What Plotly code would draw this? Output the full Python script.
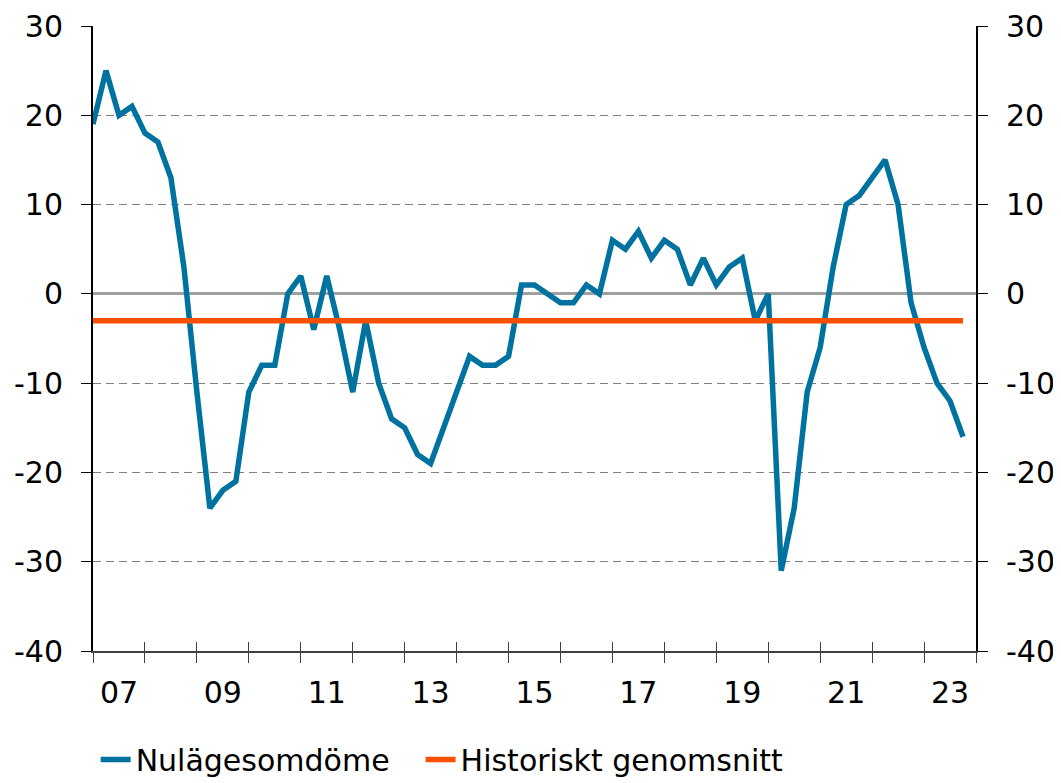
import plotly.graph_objects as go

# ---- data ----
years = list(range(2007, 2024))
quarters = [1, 2, 3, 4]
nulagesomdome = [19, 25, 20, 21, 18, 17, 13, 3,
                 -11, -24, -22, -21, -11, -8, -8, 0,
                 2, -4, 2, -4, -11, -3, -10, -14,
                 -15, -18, -19, -15, -11, -7, -8, -8,
                 -7, 1, 1, 0, -1, -1, 1, 0,
                 6, 5, 7, 4, 6, 5, 1, 4,
                 1, 3, 4, -3, 0, -31, -24, -11,
                 -6, 3, 10, 11, 13, 15, 10, -1,
                 -6, -10, -12, -16]
historiskt_genomsnitt = -3
x_tick_labels = ["07", "09", "11", "13", "15", "17", "19", "21", "23"]
y_tick_vals = [-40, -30, -20, -10, 0, 10, 20, 30]
y_tick_text = ["-40", "-30", "-20", "-10", "0", "10", "20", "30"]

# quarterly positions (fractional years)
x_vals = [y + (q - 1) / 4 for y in years for q in quarters]
x_label_pos = [2007.5 + 2 * i for i in range(len(x_tick_labels))]
year_bounds = list(range(2007, 2025))

BLUE = "#00729F"
ORANGE = "#FA5005"
FONT = "DejaVu Sans"
FS = 30

fig = go.Figure()
fig.add_trace(go.Scatter(x=x_vals, y=nulagesomdome, mode="lines",
                         line=dict(color=BLUE, width=5.5), name="Nulägesomdöme",
                         legend="legend"))
fig.add_trace(go.Scatter(x=[x_vals[0], x_vals[-1]],
                         y=[historiskt_genomsnitt, historiskt_genomsnitt],
                         mode="lines", line=dict(color=ORANGE, width=5.5),
                         name="Historiskt genomsnitt", legend="legend2"))
# helper trace for the mirrored axes
fig.add_trace(go.Scatter(x=[x_vals[0]], y=[historiskt_genomsnitt], xaxis="x2", yaxis="y2",
                         mode="markers", marker=dict(opacity=0), showlegend=False,
                         hoverinfo="skip"))

xr = [2007, 2024]
leg_common = dict(orientation="h", yanchor="top", xanchor="left", y=-0.132,
                  font=dict(size=FS), itemwidth=30, bgcolor="rgba(0,0,0,0)")
fig.update_layout(
    template="none",
    width=1053, height=775,
    margin=dict(l=85, r=85, t=18, b=132, autoexpand=False),
    paper_bgcolor="white", plot_bgcolor="white",
    font=dict(family=FONT, size=FS, color="black"),
    showlegend=True,
    legend=dict(x=0.003, **leg_common),
    legend2=dict(x=0.371, **leg_common),
    xaxis=dict(range=xr, tickmode="array", tickvals=x_label_pos, ticktext=x_tick_labels,
               ticks="", showgrid=False, zeroline=False, automargin=False,
               showline=True, linecolor="#404040", linewidth=2,
               ticklabelstandoff=14,
               minor=dict(tickmode="array", tickvals=year_bounds, ticks="outside",
                          ticklen=10, tickwidth=1, tickcolor="#404040", showgrid=False)),
    xaxis2=dict(range=xr, overlaying="x", anchor="y2", side="bottom", automargin=False,
                tickmode="array", tickvals=year_bounds, ticks="inside", ticklen=9,
                tickwidth=1, tickcolor="#404040", showticklabels=False,
                showgrid=False, zeroline=False, showline=False),
    yaxis=dict(range=[-40, 30], tickmode="array", tickvals=y_tick_vals, ticktext=y_tick_text,
               ticks="outside", ticklen=10, tickwidth=1, tickcolor="black", automargin=False,
               showline=True, linecolor="black", linewidth=2,
               showgrid=True, gridcolor="#808080", gridwidth=1.3, griddash="8px,5px",
               zeroline=True, zerolinecolor="#A0A0A0", zerolinewidth=2.5,
               ticklabelstandoff=12),
    yaxis2=dict(range=[-40, 30], overlaying="y", side="right", anchor="x2", automargin=False,
                tickmode="array", tickvals=y_tick_vals, ticktext=y_tick_text,
                ticks="outside", ticklen=10, tickwidth=1, tickcolor="black",
                showline=True, linecolor="black", linewidth=2,
                showgrid=False, zeroline=False, ticklabelstandoff=12),
)

fig.write_html("out.html")
